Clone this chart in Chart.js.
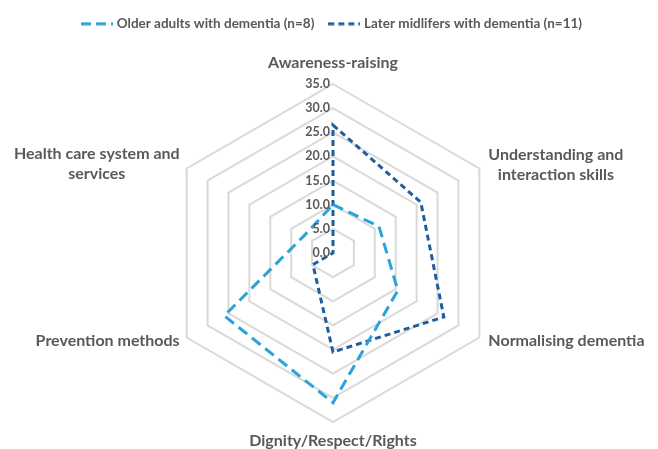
<!DOCTYPE html>
<html>
<head>
<meta charset="utf-8">
<script src="https://cdn.jsdelivr.net/npm/chart.js@4/dist/chart.umd.min.js"></script>
<style>
  html, body { margin: 0; padding: 0; background: #fff; }
  #wrap { width: 658px; height: 449px; }
</style>
</head>
<body>
<div id="wrap"><canvas id="radar"></canvas></div>
<script>
// Categorias (eixos do radar, em sentido horário a partir do topo)
const categories = [
  ['Awareness-raising'],
  ['Understanding and', 'interaction skills'],
  ['Normalising dementia'],
  ['Dignity/Respect/Rights'],
  ['Prevention methods'],
  ['Health care system and', 'services']
];

// Valores (%)
const olderAdults = [10, 11, 15.5, 31, 26, 7];
const laterMidlifers = [26.5, 21, 26.5, 20.5, 4.8, 0];

// Rótulos da escala
const tickValues = [0, 5, 10, 15, 20, 25, 30, 35];
const tickLabels = ['0.0', '5.0', '10.0', '15.0', '20.0', '25.0', '30.0', '35.0'];

const seriesNames = ['Older adults with dementia (n=8)', 'Later midlifers with dementia (n=11)'];

const corClara = '#2AA2DA';
const corEscura = '#1F5E9E';
const corTexto = '#595959';
const fonte = 'Lato, "Liberation Sans", sans-serif';

// Pequena imagem com a linha tracejada para a legenda
function amostraTracejada(cor, tracos) {
  const c = document.createElement('canvas');
  c.width = 32;
  c.height = 4;
  const g = c.getContext('2d');
  g.strokeStyle = cor;
  g.lineWidth = 3;
  g.setLineDash(tracos);
  g.beginPath();
  g.moveTo(0, 2);
  g.lineTo(32, 2);
  g.stroke();
  return c;
}

// Espaço entre a legenda e o gráfico
const espacoLegenda = {
  id: 'espacoLegenda',
  afterInit(chart) {
    const fitOriginal = chart.legend.fit;
    chart.legend.fit = function () {
      fitOriginal.call(this);
      this.height = 84;
    };
  }
};

// Rótulos dos eixos e da escala desenhados a partir da escala radial
const rotulos = {
  id: 'rotulos',
  afterDatasetsDraw(chart) {
    const scale = chart.scales.r;
    const ctx = chart.ctx;
    ctx.save();
    ctx.fillStyle = corTexto;

    // escala 0.0 ... 35.0
    ctx.font = 'bold 12.5px ' + fonte;
    ctx.textAlign = 'right';
    ctx.textBaseline = 'middle';
    tickValues.forEach((v, i) => {
      const p = scale.getPointPositionForValue(0, v);
      ctx.fillText(tickLabels[i], p.x - 3, p.y);
    });

    // nomes das categorias
    ctx.font = 'bold 16px ' + fonte;
    ctx.textAlign = 'center';
    const alturaLinha = 20;
    categories.forEach((linhas, i) => {
      const p = scale.getPointPosition(i, scale.drawingArea);
      const larg = Math.max(...linhas.map(l => ctx.measureText(l).width));
      let cx = p.x;
      let cy = p.y;
      if (i === 0) cy -= 21;
      else if (i === 3) cy += 19;
      else if (i === 1 || i === 2) cx = p.x + 9 + larg / 2;
      else cx = p.x - 7 - larg / 2;
      if (i === 1) cy -= 4;
      if (i === 5) cy -= 5;
      if (i === 2 || i === 4) cy += 3;
      const y0 = cy - (linhas.length - 1) * alturaLinha / 2;
      linhas.forEach((l, k) => ctx.fillText(l, cx, y0 + k * alturaLinha));
    });
    ctx.restore();
  }
};

new Chart(document.getElementById('radar'), {
  type: 'radar',
  data: {
    labels: categories,
    datasets: [
      {
        label: seriesNames[0],
        data: olderAdults,
        borderColor: corClara,
        backgroundColor: corClara,
        borderWidth: 3,
        borderDash: [11, 6],
        fill: false,
        pointRadius: 0,
        pointHoverRadius: 0,
        pointStyle: amostraTracejada(corClara, [10, 5])
      },
      {
        label: seriesNames[1],
        data: laterMidlifers,
        borderColor: corEscura,
        backgroundColor: corEscura,
        borderWidth: 3,
        borderDash: [6, 4],
        fill: false,
        pointRadius: 0,
        pointHoverRadius: 0,
        pointStyle: amostraTracejada(corEscura, [6, 4])
      }
    ]
  },
  options: {
    responsive: true,
    maintainAspectRatio: false,
    animation: false,
    layout: { padding: { top: 0, bottom: 27, left: 8, right: 0 } },
    plugins: {
      legend: {
        position: 'top',
        labels: {
          usePointStyle: true,
          pointStyleWidth: 26,
          padding: 17,
          color: corTexto,
          font: { family: fonte, size: 13.5, weight: 'bold' }
        }
      },
      tooltip: { enabled: false }
    },
    scales: {
      r: {
        min: 0,
        max: 35,
        ticks: { display: false, stepSize: 5 },
        pointLabels: { display: false },
        angleLines: { display: false },
        grid: { color: '#D9D9D9', lineWidth: 2 }
      }
    }
  },
  plugins: [espacoLegenda, rotulos]
});
</script>
</body>
</html>
